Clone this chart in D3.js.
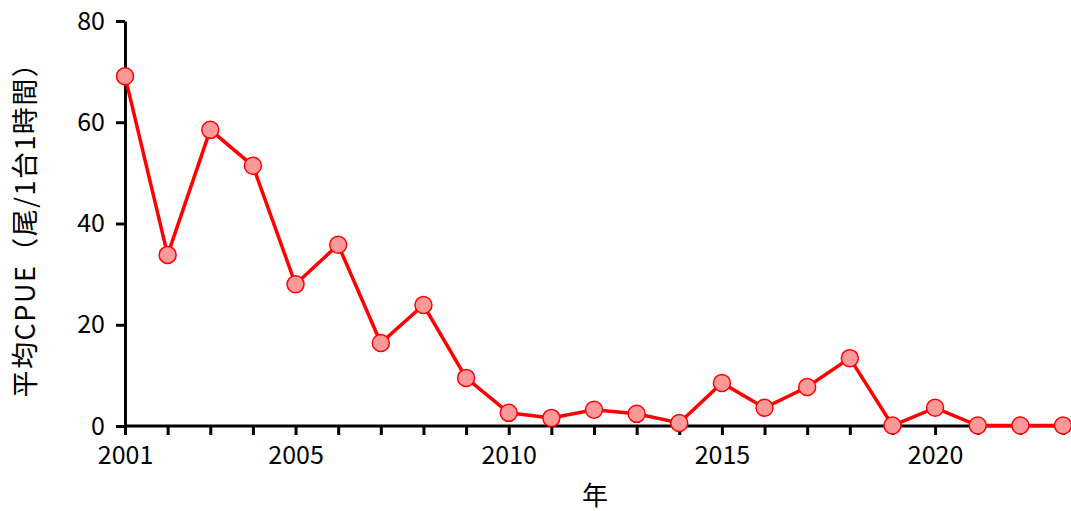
<!DOCTYPE html>
<html>
<head>
<meta charset="utf-8">
<script src="https://cdn.jsdelivr.net/npm/d3@7"></script>
<style>
  body { margin: 0; background: #fff; }
  text { font-family: "Noto Sans CJK JP", "Noto Sans", sans-serif; fill: #000; }
</style>
</head>
<body>
<svg id="chart" width="1071" height="511"></svg>
<script>
// values
var years = d3.range(2001, 2024)
var cpue = [69.1, 33.8, 58.5, 51.4, 28.0, 35.8, 16.4, 23.9, 9.5, 2.6, 1.6, 3.2,
            2.4, 0.6, 8.5, 3.6, 7.7, 13.4, 0.1, 3.6, 0.1, 0.1, 0.1]
var xTicks = [2001, 2005, 2010, 2015, 2020]
var yTicks = [0, 20, 40, 60, 80]

var svg = d3.select('#chart')
var x = d3.scaleLinear().domain([2001, 2023]).range([125, 1063])
var y = d3.scaleLinear().domain([0, 80]).range([426, 21])

// x axis, a tick every year but labels only on some
var xAxis = svg.append('g')
  .attr('transform', 'translate(0,' + y(0) + ')')
  .call(d3.axisBottom(x).tickValues(years).tickSize(9)
    .tickFormat(d => xTicks.indexOf(d) >= 0 ? d : ''))
xAxis.select('.domain').attr('d', 'M' + x(2001) + ',0H' + x(2023))

var yAxis = svg.append('g')
  .attr('transform', 'translate(' + x(2001) + ',0)')
  .call(d3.axisLeft(y).tickValues(yTicks).tickSize(9).tickSizeOuter(0))

svg.selectAll('.domain, .tick line').attr('stroke', '#000').attr('stroke-width', 3)
svg.selectAll('.tick text').style('font-size', '25px').attr('fill', '#000')
xAxis.selectAll('.tick text').attr('dy', '1.05em')
yAxis.selectAll('.tick text').attr('x', -20)

svg.append('text')
  .attr('x', 595).attr('y', 505)
  .attr('text-anchor', 'middle')
  .style('font-size', '26px')
  .text('年')

svg.append('text')
  .attr('transform', 'translate(35,223) rotate(-90)')
  .attr('text-anchor', 'middle')
  .style('font-size', '27px')
  .style('letter-spacing', '1.5px')
  .text('平均CPUE（尾/1台1時間）')

var line = d3.line().x((d, i) => x(years[i])).y(d => y(d))
svg.append('path')
  .datum(cpue)
  .attr('d', line)
  .attr('fill', 'none')
  .attr('stroke', '#ff0000')
  .attr('stroke-width', 3.5)

svg.selectAll('circle.pt')
  .data(cpue)
  .enter().append('circle')
  .attr('class', 'pt')
  .attr('cx', (d, i) => x(years[i]))
  .attr('cy', d => y(d))
  .attr('r', 8.5)
  .attr('fill', '#ff9999')
  .attr('stroke', '#ff0000')
  .attr('stroke-width', 1.5)
</script>
</body>
</html>
